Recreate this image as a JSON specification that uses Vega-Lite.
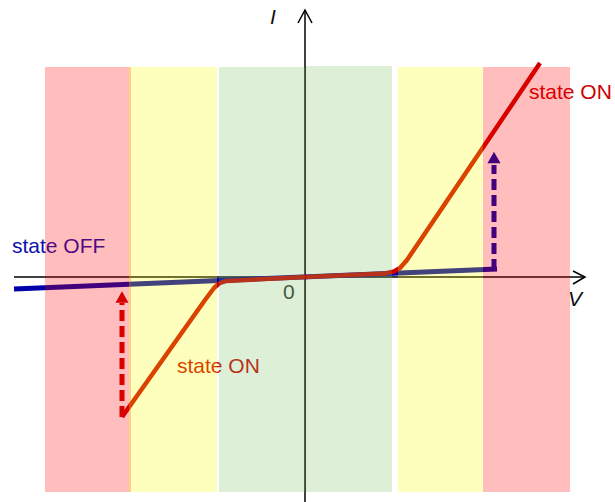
{
  "$schema": "https://vega.github.io/schema/vega-lite/v6.json",
  "width": 615,
  "height": 502,
  "autosize": {"type": "none"},
  "padding": 0,
  "background": "white",
  "config": {"view": {"stroke": null}},
  "resolve": {"scale": {"color": "independent"}},
  "datasets": {
    "bands": [
      {"zone": "red", "v0": -5.2, "v1": -3.48, "i0": -4.3, "i1": 4.2},
      {"zone": "yellow", "v0": -3.52, "v1": -1.76, "i0": -4.3, "i1": 4.2},
      {"zone": "green", "v0": -1.72, "v1": 0.0, "i0": -4.3, "i1": 4.2},
      {"zone": "green", "v0": 0.02, "v1": 1.74, "i0": -4.3, "i1": 4.22},
      {"zone": "yellow", "v0": 1.86, "v1": 3.56, "i0": -4.3, "i1": 4.2},
      {"zone": "red", "v0": 3.56, "v1": 5.3, "i0": -4.3, "i1": 4.2}
    ],
    "axes": [
      {"part": "h", "ord": 1, "V": -5.82, "I": 0},
      {"part": "h", "ord": 2, "V": 5.6, "I": 0},
      {"part": "hh", "ord": 1, "V": 5.36, "I": 0.12},
      {"part": "hh", "ord": 2, "V": 5.6, "I": 0},
      {"part": "hh", "ord": 3, "V": 5.36, "I": -0.14},
      {"part": "v", "ord": 1, "V": 0, "I": -4.5},
      {"part": "v", "ord": 2, "V": 0, "I": 5.34},
      {"part": "vh", "ord": 1, "V": -0.14, "I": 5.08},
      {"part": "vh", "ord": 2, "V": 0, "I": 5.34},
      {"part": "vh", "ord": 3, "V": 0.14, "I": 5.08}
    ],
    "off": [
      {"V": -5.82, "I": -0.24},
      {"V": 3.84, "I": 0.16}
    ],
    "on": [
      {"V": -3.66, "I": -2.8},
      {"V": -2.0, "I": -0.46},
      {"V": -1.82, "I": -0.22},
      {"V": -1.72, "I": -0.13},
      {"V": -1.58, "I": -0.08},
      {"V": 0, "I": 0},
      {"V": 1.6, "I": 0.07},
      {"V": 1.78, "I": 0.11},
      {"V": 1.9, "I": 0.18},
      {"V": 2.04, "I": 0.34},
      {"V": 4.7, "I": 4.28}
    ],
    "arrows": [
      {"kind": "to ON", "V": -3.66, "I0": -2.8, "I1": -0.52, "Ihead": -0.4},
      {"kind": "to ON high", "V": 3.78, "I0": 0.14, "I1": 2.24, "Ihead": 2.39}
    ],
    "labels": [
      {"kind": "off", "text": "state OFF", "V": -5.86, "I": 0.48},
      {"kind": "on", "text": "state ON", "V": -2.56, "I": -1.92},
      {"kind": "on", "text": "state ON", "V": 4.48, "I": 3.56},
      {"kind": "zero", "text": "0", "V": -0.44, "I": -0.44}
    ],
    "axislabels": [
      {"text": "I", "V": -0.7, "I": 5.06},
      {"text": "V", "V": 5.26, "I": -0.58}
    ]
  },
  "layer": [
    {
      "data": {"name": "axes"},
      "mark": {"type": "line", "color": "black", "strokeWidth": 1.5},
      "encoding": {
        "x": {"field": "V", "type": "quantitative", "scale": {"domain": [-6.1, 6.2], "nice": false, "zero": false}, "axis": null},
        "y": {"field": "I", "type": "quantitative", "scale": {"domain": [-4.5, 5.54], "nice": false, "zero": false}, "axis": null},
        "detail": {"field": "part"},
        "order": {"field": "ord"}
      }
    },
    {
      "data": {"name": "off"},
      "mark": {"type": "line", "color": "#0000a8", "strokeWidth": 5, "strokeCap": "butt"},
      "encoding": {
        "x": {"field": "V", "type": "quantitative"},
        "y": {"field": "I", "type": "quantitative"}
      }
    },
    {
      "data": {"name": "on"},
      "mark": {"type": "line", "color": "#cc0000", "strokeWidth": 4.5, "strokeJoin": "round"},
      "encoding": {
        "x": {"field": "V", "type": "quantitative"},
        "y": {"field": "I", "type": "quantitative"}
      }
    },
    {
      "data": {"name": "arrows"},
      "mark": {"type": "rule", "strokeWidth": 5, "strokeDash": [11, 5], "strokeCap": "butt"},
      "encoding": {
        "x": {"field": "V", "type": "quantitative"},
        "y": {"field": "I0", "type": "quantitative"},
        "y2": {"field": "I1"},
        "color": {"field": "kind", "type": "nominal", "scale": {"domain": ["to ON", "to ON high"], "range": ["#cc0000", "#0000a8"]}, "legend": null}
      }
    },
    {
      "data": {"name": "arrows"},
      "mark": {"type": "point", "shape": "triangle-up", "filled": true, "opacity": 1, "size": 169},
      "encoding": {
        "x": {"field": "V", "type": "quantitative"},
        "y": {"field": "Ihead", "type": "quantitative"},
        "color": {"field": "kind", "type": "nominal", "scale": {"domain": ["to ON", "to ON high"], "range": ["#cc0000", "#0000a8"]}, "legend": null}
      }
    },
    {
      "data": {"name": "labels"},
      "mark": {"type": "text", "align": "left", "baseline": "alphabetic", "font": "Liberation Sans", "fontSize": 21},
      "encoding": {
        "x": {"field": "V", "type": "quantitative"},
        "y": {"field": "I", "type": "quantitative"},
        "text": {"field": "text"},
        "color": {"field": "kind", "type": "nominal", "scale": {"domain": ["off", "on", "zero"], "range": ["#1010b0", "#cc0000", "#333333"]}, "legend": null}
      }
    },
    {
      "data": {"name": "axislabels"},
      "mark": {"type": "text", "align": "left", "baseline": "alphabetic", "font": "Liberation Sans", "fontSize": 21, "fontStyle": "italic", "color": "#111111"},
      "encoding": {
        "x": {"field": "V", "type": "quantitative"},
        "y": {"field": "I", "type": "quantitative"},
        "text": {"field": "text"}
      }
    },
    {
      "data": {"name": "bands"},
      "mark": {"type": "rect", "opacity": 0.26},
      "encoding": {
        "x": {"field": "v0", "type": "quantitative"},
        "x2": {"field": "v1"},
        "y": {"field": "i0", "type": "quantitative"},
        "y2": {"field": "i1"},
        "color": {"field": "zone", "type": "nominal", "scale": {"domain": ["red", "yellow", "green"], "range": ["#ff0000", "#ffff00", "#7cc165"]}, "legend": null}
      }
    }
  ]
}
